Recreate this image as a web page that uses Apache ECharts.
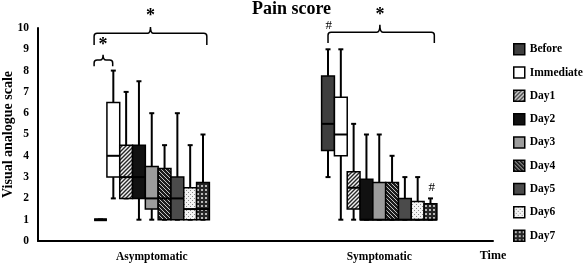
<!DOCTYPE html>
<html>
<head>
<meta charset="utf-8">
<script src="https://cdn.jsdelivr.net/npm/echarts@6/dist/echarts.min.js"></script>
<style>
  html, body { margin: 0; padding: 0; background: #fff; }
  #chart { width: 583px; height: 265px; }
</style>
</head>
<body>
<div id="chart"></div>
<script>
// groups on the x axis
const categories = ['Asymptomatic', 'Symptomatic']
const timepoints = ['Before', 'Immediate', 'Day1', 'Day2', 'Day3', 'Day4', 'Day5', 'Day6', 'Day7']

// [min, q1, median, q3, max] for each time point
const asymptomatic = [
  [1, 1, 1, 1, 1],
  [2, 3, 4, 6.5, 8],
  [2, 2, 3, 4.5, 7],
  [1, 2, 3, 4.5, 7.5],
  [1, 1.5, 2, 3.5, 6],
  [1, 1, 2, 3.4, 4.5],
  [1, 1, 2, 3, 6],
  [1, 1, 1.5, 2.5, 4.5],
  [1, 1, 1.5, 2.75, 5]
]
const symptomatic = [
  [3, 4.25, 5.5, 7.75, 9],
  [1, 4, 5, 6.75, 9],
  [1, 1.5, 2.5, 3.25, 5.5],
  [1, 1, 1, 2.9, 5],
  [1, 1, 1, 2.75, 5],
  [1, 1, 1, 2.75, 4],
  [1, 1, 1, 2, 3],
  [1, 1, 1, 1.85, 3],
  [1, 1, 1, 1.75, 2]
]

// significance brackets: [category, slot from, slot to, line y, end y, peak y, peak slot]
const brackets = [
  [0, -0.5, 8.3, 9.75, 9.2, 10.05, 3.9],
  [0, -0.5, 0.95, 8.5, 8.2, 8.75, 0.2],
  [1, 0, 8.3, 9.8, 9.3, 10.15, 4.05]
]
// marks above brackets / boxes: [category, slot, y]
const notes = [
  [0, 3.9, 10.55],
  [0, 0.2, 9.2],
  [1, 4.05, 10.6],
  [1, 0.05, 10.1],
  [1, 8.1, 2.5]
]
const noteText = ['*', '*', '*', '#', '#']

const SLOT = 0.0563 // width of one box as share of the category band
const FONT = '"Liberation Serif", "Times New Roman", serif'

function pattern(size, draw) {
  const c = document.createElement('canvas')
  c.width = c.height = size
  draw(c.getContext('2d'), size)
  return { image: c, repeat: 'repeat' }
}
function solid(col) {
  return pattern(2, function (ctx, s) { ctx.fillStyle = col; ctx.fillRect(0, 0, s, s) })
}
function stripes(bg, fg, w, back) {
  return pattern(4, function (ctx, s) {
    ctx.fillStyle = bg; ctx.fillRect(0, 0, s, s)
    ctx.strokeStyle = fg; ctx.lineWidth = w
    ctx.beginPath()
    if (back) {
      ctx.moveTo(0, 0); ctx.lineTo(s, s)
      ctx.moveTo(-1, s - 1); ctx.lineTo(1, s + 1)
      ctx.moveTo(s - 1, -1); ctx.lineTo(s + 1, 1)
    } else {
      ctx.moveTo(0, s); ctx.lineTo(s, 0)
      ctx.moveTo(-1, 1); ctx.lineTo(1, -1)
      ctx.moveTo(s - 1, s + 1); ctx.lineTo(s + 1, s - 1)
    }
    ctx.stroke()
  })
}

const fills = [
  solid('#3f3f3f'),
  solid('#ffffff'),
  stripes('#f2f2f2', '#262626', 1.4, false),
  solid('#111111'),
  solid('#9c9c9c'),
  stripes('#1c1c1c', '#c4c4c4', 1, true),
  solid('#4b4b4b'),
  pattern(4, function (ctx, s) {
    ctx.fillStyle = '#f4f4f4'; ctx.fillRect(0, 0, s, s)
    ctx.fillStyle = '#8a8a8a'; ctx.fillRect(0, 0, 1, 1); ctx.fillRect(2, 2, 1, 1)
  }),
  pattern(4, function (ctx, s) {
    ctx.fillStyle = '#262626'; ctx.fillRect(0, 0, s, s)
    ctx.fillStyle = '#b8b8b8'; ctx.fillRect(1, 1, 2, 2)
  })
]

function slotX(api, cat, slot) {
  const base = api.coord([cat, 0])[0]
  const pitch = api.size([1, 0])[0] * SLOT
  return [base + (slot - 4) * pitch, pitch]
}

function boxRenderer(slot) {
  return function (params, api) {
    const cat = api.value(0)
    const p = slotX(api, cat, slot)
    const cx = p[0], hw = p[1] / 2, cap = 2.5
    const y = [1, 2, 3, 4, 5].map(function (d) { return api.coord([cat, api.value(d)])[1] })
    const ln = { stroke: '#000', lineWidth: 2 }
    const flat = y[1] - y[3] < 1
    return {
      type: 'group',
      children: [
        { type: 'line', shape: { x1: cx, y1: y[3], x2: cx, y2: y[4] }, style: ln },
        { type: 'line', shape: { x1: cx - cap, y1: y[4], x2: cx + cap, y2: y[4] }, style: ln },
        { type: 'line', shape: { x1: cx, y1: y[1], x2: cx, y2: y[0] }, style: ln },
        { type: 'line', shape: { x1: cx - cap, y1: y[0], x2: cx + cap, y2: y[0] }, style: ln },
        { type: 'rect', shape: { x: cx - hw, y: y[3], width: hw * 2, height: y[1] - y[3] },
          style: { fill: fills[slot], stroke: '#000', lineWidth: 1.5 } },
        { type: 'line', shape: { x1: cx - hw, y1: y[2], x2: cx + hw, y2: y[2] },
          style: { stroke: '#000', lineWidth: flat ? 3 : 2 } }
      ]
    }
  }
}

function bracketRenderer(params, api) {
  const cat = api.value(0)
  const xl = slotX(api, cat, api.value(1))[0]
  const xr = slotX(api, cat, api.value(2))[0]
  const xp = slotX(api, cat, api.value(6))[0]
  const yl = api.coord([cat, api.value(3)])[1]
  const ye = api.coord([cat, api.value(4)])[1]
  const yp = api.coord([cat, api.value(5)])[1]
  const r = 3
  const d = 'M' + xl + ' ' + ye + 'L' + xl + ' ' + (yl + r) + 'Q' + xl + ' ' + yl + ' ' + (xl + r) + ' ' + yl +
    'L' + (xp - r) + ' ' + yl + 'Q' + xp + ' ' + yl + ' ' + xp + ' ' + yp +
    'Q' + xp + ' ' + yl + ' ' + (xp + r) + ' ' + yl +
    'L' + (xr - r) + ' ' + yl + 'Q' + xr + ' ' + yl + ' ' + xr + ' ' + (yl + r) + 'L' + xr + ' ' + ye
  return { type: 'path', shape: { pathData: d }, style: { fill: null, stroke: '#000', lineWidth: 1.5 } }
}

function noteRenderer(params, api) {
  const cat = api.value(0)
  const x = slotX(api, cat, api.value(1))[0]
  const y = api.coord([cat, api.value(2)])[1]
  const t = noteText[params.dataIndex]
  return {
    type: 'text',
    style: {
      text: t, x: x, y: y, fill: '#000', align: 'center', verticalAlign: 'middle',
      font: (t === '*' ? 'bold 18px ' : '13px ') + FONT
    }
  }
}

const series = timepoints.map(function (name, i) {
  return {
    name: name,
    type: 'custom',
    renderItem: boxRenderer(i),
    itemStyle: { color: fills[i] },
    data: [[0].concat(asymptomatic[i]), [1].concat(symptomatic[i])]
  }
})
series.push({ type: 'custom', name: 'brackets', renderItem: bracketRenderer, data: brackets, silent: true })
series.push({ type: 'custom', name: 'notes', renderItem: noteRenderer, data: notes, silent: true })

const chart = echarts.init(document.getElementById('chart'))
chart.setOption({
  animation: false,
  title: {
    text: 'Pain score',
    left: 'center',
    top: 0,
    padding: 0,
    textStyle: { fontFamily: FONT, fontWeight: 'bold', fontSize: 18, color: '#000' }
  },
  legend: {
    data: timepoints,
    orient: 'vertical',
    left: 513,
    top: 43,
    padding: 0,
    icon: 'rect',
    itemWidth: 11,
    itemHeight: 11,
    itemGap: 10.8,
    itemStyle: { borderColor: '#000', borderWidth: 1.5 },
    textStyle: { fontFamily: FONT, fontWeight: 'bold', fontSize: 11.5, color: '#000', lineHeight: 11 }
  },
  grid: { left: 38, right: 90, top: 28, bottom: 24, containLabel: false, outerBoundsMode: 'none' },
  xAxis: {
    type: 'category',
    data: categories,
    name: 'Time',
    nameLocation: 'end',
    nameGap: 0,
    nameMoveOverlap: false,
    nameTextStyle: { fontFamily: FONT, fontWeight: 'bold', fontSize: 12, color: '#000', align: 'center', verticalAlign: 'top', padding: [9, 0, 0, 0] },
    axisLine: { lineStyle: { color: '#000', width: 2 } },
    axisTick: { show: false },
    axisLabel: { margin: 10, fontFamily: FONT, fontWeight: 'bold', fontSize: 11.5, color: '#000' }
  },
  yAxis: {
    type: 'value',
    min: 0,
    max: 10,
    interval: 1,
    name: 'Visual analogue scale',
    nameLocation: 'middle',
    nameGap: 23,
    nameMoveOverlap: false,
    nameTextStyle: { fontFamily: FONT, fontWeight: 'bold', fontSize: 14, color: '#000' },
    axisLine: { show: true, lineStyle: { color: '#000', width: 2 } },
    axisTick: { show: false },
    splitLine: { show: false },
    axisLabel: { margin: 9, fontFamily: FONT, fontWeight: 'bold', fontSize: 11.5, color: '#000' }
  },
  series: series
})
</script>
</body>
</html>
